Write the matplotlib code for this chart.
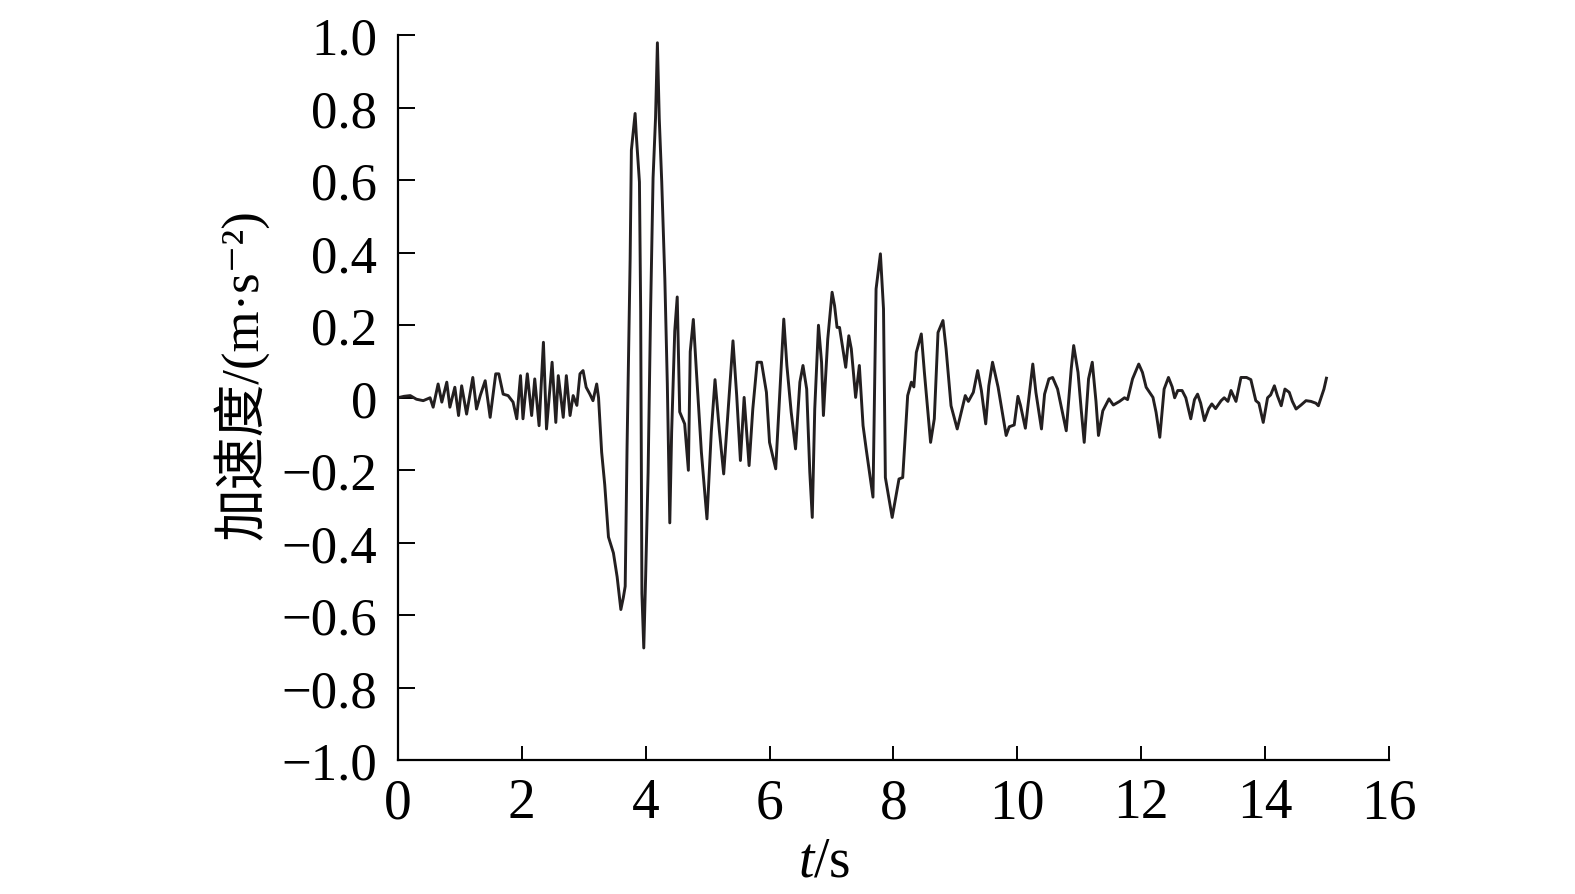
import numpy as np
import matplotlib
matplotlib.use("Agg")
import matplotlib.pyplot as plt

plt.rcParams['font.family'] = ['Liberation Serif', 'Noto Sans CJK SC', 'DejaVu Sans']
plt.rcParams['mathtext.fontset'] = 'custom'
plt.rcParams['mathtext.rm'] = 'Liberation Serif'
plt.rcParams['mathtext.it'] = 'Liberation Serif:italic'

# acceleration record (time in s, acceleration in m/s^2)
t = [0.00, 0.10, 0.20, 0.30, 0.41, 0.52, 0.57, 0.65, 0.71, 0.79, 0.84, 0.92, 0.98,
     1.03, 1.11, 1.21, 1.27, 1.33, 1.41, 1.49, 1.58, 1.63, 1.70, 1.78, 1.86, 1.92, 1.98,
     2.02, 2.09, 2.16, 2.21, 2.28, 2.35, 2.40, 2.49, 2.55, 2.59, 2.67, 2.72, 2.78, 2.83, 2.89, 2.94, 2.99,
     3.04, 3.10, 3.15, 3.21, 3.24, 3.29, 3.34, 3.40, 3.48, 3.54, 3.60, 3.64, 3.67, 3.70, 3.75, 3.77, 3.83, 3.85, 3.90, 3.92, 3.94, 3.97,
     4.00, 4.04, 4.08, 4.12, 4.16, 4.19, 4.22, 4.26, 4.31, 4.35, 4.39, 4.42, 4.47, 4.51, 4.55, 4.63, 4.69, 4.72, 4.77, 4.82, 4.90, 4.99,
     5.06, 5.12, 5.19, 5.26, 5.36, 5.41, 5.47, 5.53, 5.59, 5.67, 5.73, 5.80, 5.87, 5.95,
     6.00, 6.10, 6.19, 6.23, 6.28, 6.35, 6.42, 6.49, 6.54, 6.60, 6.65, 6.69, 6.73, 6.79, 6.84, 6.87, 6.94,
     7.01, 7.05, 7.09, 7.13, 7.23, 7.28, 7.32, 7.39, 7.45, 7.51, 7.56, 7.67, 7.72, 7.79, 7.84, 7.87, 7.98,
     8.09, 8.15, 8.23, 8.29, 8.33, 8.37, 8.45, 8.50, 8.60, 8.66, 8.72, 8.80, 8.85, 8.93,
     9.03, 9.12, 9.16, 9.21, 9.29, 9.36, 9.42, 9.49, 9.54, 9.60, 9.69, 9.82, 9.87, 9.95,
     10.01, 10.05, 10.13, 10.25, 10.30, 10.39, 10.44, 10.51, 10.57, 10.65, 10.79, 10.87, 10.91, 10.98,
     11.03, 11.08, 11.15, 11.21, 11.27, 11.31, 11.38, 11.48, 11.55, 11.65, 11.73, 11.78, 11.86, 11.96,
     12.02, 12.08, 12.19, 12.24, 12.30, 12.37, 12.44, 12.50, 12.54, 12.59, 12.66, 12.72, 12.80, 12.86, 12.91, 12.96,
     13.02, 13.09, 13.14, 13.20, 13.29, 13.34, 13.40, 13.45, 13.53, 13.61, 13.70, 13.77, 13.85, 13.90, 13.97,
     14.04, 14.09, 14.15, 14.20, 14.26, 14.32, 14.39, 14.44, 14.50, 14.58, 14.66, 14.74, 14.82, 14.86, 14.95, 14.99]

acc = [0.000, 0.004, 0.006, -0.004, -0.008, 0.000, -0.026, 0.038, -0.012, 0.043, -0.026, 0.029, -0.049,
       0.033, -0.045, 0.056, -0.031, 0.006, 0.047, -0.054, 0.066, 0.066, 0.010, 0.006, -0.012, -0.058, 0.061,
       -0.058, 0.066, -0.049, 0.052, -0.077, 0.153, -0.086, 0.098, -0.068, 0.061, -0.054, 0.061, -0.049, 0.006, -0.021, 0.066, 0.075,
       0.029, 0.010, -0.008, 0.038, 0.000, -0.150, -0.240, -0.384, -0.428, -0.494, -0.584, -0.551, -0.520, -0.138, 0.383, 0.683, 0.784, 0.722, 0.595, 0.239, -0.540, -0.690,
       -0.494, -0.206, 0.239, 0.606, 0.772, 0.979, 0.770, 0.595, 0.328, 0.039, -0.345, -0.094, 0.184, 0.278, -0.039, -0.072, -0.200, 0.127, 0.216, 0.072, -0.150, -0.334,
       -0.094, 0.050, -0.090, -0.210, 0.033, 0.157, 0.006, -0.173, 0.001, -0.187, -0.031, 0.098, 0.098, 0.015,
       -0.123, -0.196, 0.089, 0.217, 0.089, -0.040, -0.141, 0.043, 0.089, 0.024, -0.205, -0.330, -0.031, 0.200, 0.098, -0.049, 0.162,
       0.291, 0.254, 0.194, 0.194, 0.084, 0.171, 0.135, 0.001, 0.089, -0.077, -0.141, -0.274, 0.300, 0.397, 0.245, -0.220, -0.330,
       -0.224, -0.220, 0.006, 0.043, 0.030, 0.125, 0.176, 0.070, -0.123, -0.058, 0.180, 0.213, 0.135, -0.022,
       -0.086, -0.022, 0.006, -0.010, 0.015, 0.075, 0.020, -0.072, 0.033, 0.098, 0.029, -0.104, -0.080, -0.075,
       0.004, -0.020, -0.084, 0.093, 0.015, -0.086, 0.010, 0.052, 0.056, 0.024, -0.091, 0.079, 0.144, 0.070,
       -0.030, -0.123, 0.052, 0.098, -0.010, -0.104, -0.036, -0.003, -0.020, -0.010, 0.000, -0.005, 0.052, 0.093,
       0.070, 0.029, 0.001, -0.040, -0.109, 0.024, 0.056, 0.030, 0.000, 0.020, 0.020, 0.000, -0.058, -0.005, 0.010, -0.015,
       -0.063, -0.030, -0.017, -0.030, -0.008, 0.000, -0.010, 0.020, -0.010, 0.056, 0.056, 0.050, -0.008, -0.015, -0.068,
       0.000, 0.008, 0.033, 0.005, -0.022, 0.024, 0.015, -0.010, -0.031, -0.020, -0.008, -0.010, -0.015, -0.022, 0.024, 0.054]

xticks = [0, 2, 4, 6, 8, 10, 12, 14, 16]
yticks = [1.0, 0.8, 0.6, 0.4, 0.2, 0, -0.2, -0.4, -0.6, -0.8, -1.0]
ytick_labels = ['1.0', '0.8', '0.6', '0.4', '0.2', '0',
                '\u22120.2', '\u22120.4', '\u22120.6', '\u22120.8', '\u22121.0']

fig = plt.figure(figsize=(15.75, 8.95), dpi=100)
ax = fig.add_axes([0.2526, 0.1493, 0.8819 - 0.2526, 0.9596 - 0.1493])

ax.plot(t, acc, color='#231f20', lw=2.1)

ax.set_xlim(0, 16)
ax.set_ylim(-1, 1)
ax.set_xticks(xticks)
ax.set_yticks(yticks)
ax.set_yticklabels(ytick_labels)
ax.spines['top'].set_visible(False)
ax.spines['right'].set_visible(False)
ax.spines['left'].set_linewidth(1.6)
ax.spines['bottom'].set_linewidth(1.6)
ax.tick_params(axis='y', direction='in', length=12, width=1.4, labelsize=38, pad=15)
ax.tick_params(axis='x', direction='in', length=10, width=1.4, labelsize=40, pad=12)

fig.text(0.1525, 0.582, '加速度/(m·s⁻²)', rotation=90, ha='center', va='center', fontsize=38)
fig.text(0.523, 0.036, '$t$/s', ha='center', va='center', fontsize=40)

fig.savefig('out.png', dpi=100)
